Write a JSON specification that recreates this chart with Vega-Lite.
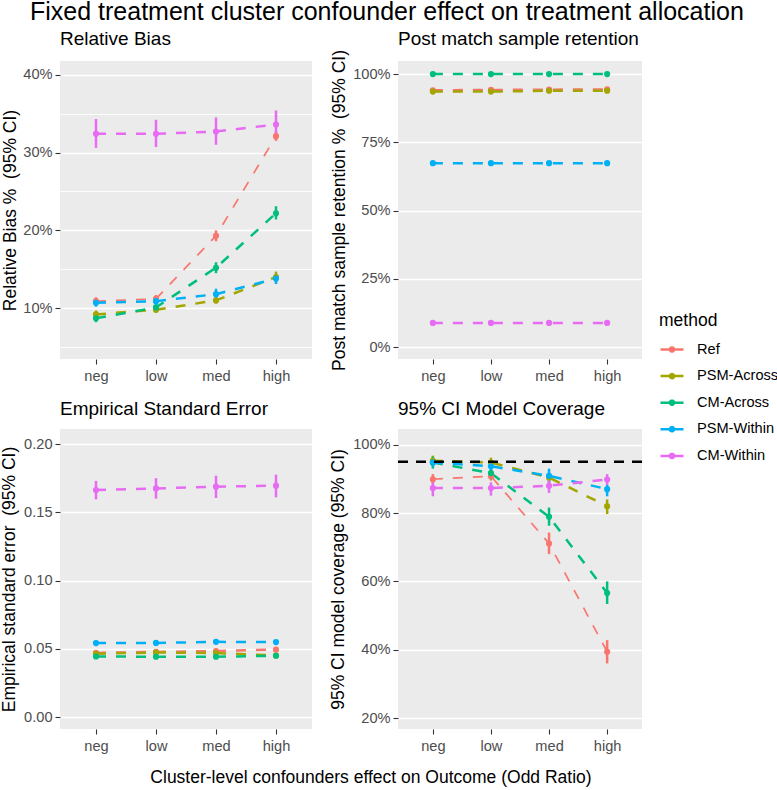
{
  "$schema": "https://vega.github.io/schema/vega-lite/v6.json",
  "padding": {"left": 0, "top": 0, "right": 2, "bottom": 2},
  "title": {"text": "Fixed treatment cluster confounder effect on treatment allocation", "fontSize": 25, "anchor": "start", "frame": "group", "baseline": "alphabetic", "offset": 16, "dx": -30, "dy": 31.3, "fontWeight": "normal", "color": "black"},
  "datasets": {
    "bias": [
      {"method": "Ref", "level": "neg", "v": 0.109, "lo": 0.104, "hi": 0.114},
      {"method": "Ref", "level": "low", "v": 0.112, "lo": 0.107, "hi": 0.117},
      {"method": "Ref", "level": "med", "v": 0.193, "lo": 0.186, "hi": 0.200},
      {"method": "Ref", "level": "high", "v": 0.321, "lo": 0.315, "hi": 0.327},
      {"method": "PSM-Across", "level": "neg", "v": 0.092, "lo": 0.088, "hi": 0.097},
      {"method": "PSM-Across", "level": "low", "v": 0.098, "lo": 0.094, "hi": 0.103},
      {"method": "PSM-Across", "level": "med", "v": 0.110, "lo": 0.106, "hi": 0.115},
      {"method": "PSM-Across", "level": "high", "v": 0.140, "lo": 0.133, "hi": 0.147},
      {"method": "CM-Across", "level": "neg", "v": 0.087, "lo": 0.082, "hi": 0.092},
      {"method": "CM-Across", "level": "low", "v": 0.101, "lo": 0.095, "hi": 0.107},
      {"method": "CM-Across", "level": "med", "v": 0.152, "lo": 0.145, "hi": 0.159},
      {"method": "CM-Across", "level": "high", "v": 0.222, "lo": 0.214, "hi": 0.231},
      {"method": "PSM-Within", "level": "neg", "v": 0.107, "lo": 0.102, "hi": 0.112},
      {"method": "PSM-Within", "level": "low", "v": 0.109, "lo": 0.104, "hi": 0.114},
      {"method": "PSM-Within", "level": "med", "v": 0.118, "lo": 0.111, "hi": 0.125},
      {"method": "PSM-Within", "level": "high", "v": 0.138, "lo": 0.131, "hi": 0.144},
      {"method": "CM-Within", "level": "neg", "v": 0.324, "lo": 0.306, "hi": 0.343},
      {"method": "CM-Within", "level": "low", "v": 0.324, "lo": 0.307, "hi": 0.342},
      {"method": "CM-Within", "level": "med", "v": 0.327, "lo": 0.310, "hi": 0.345},
      {"method": "CM-Within", "level": "high", "v": 0.336, "lo": 0.319, "hi": 0.354}
    ],
    "ret": [
      {"method": "Ref", "level": "neg", "v": 0.941},
      {"method": "Ref", "level": "low", "v": 0.942},
      {"method": "Ref", "level": "med", "v": 0.943},
      {"method": "Ref", "level": "high", "v": 0.944},
      {"method": "PSM-Across", "level": "neg", "v": 0.936},
      {"method": "PSM-Across", "level": "low", "v": 0.936},
      {"method": "PSM-Across", "level": "med", "v": 0.939},
      {"method": "PSM-Across", "level": "high", "v": 0.939},
      {"method": "CM-Across", "level": "neg", "v": 1.0},
      {"method": "CM-Across", "level": "low", "v": 1.0},
      {"method": "CM-Across", "level": "med", "v": 1.0},
      {"method": "CM-Across", "level": "high", "v": 1.0},
      {"method": "PSM-Within", "level": "neg", "v": 0.674},
      {"method": "PSM-Within", "level": "low", "v": 0.674},
      {"method": "PSM-Within", "level": "med", "v": 0.674},
      {"method": "PSM-Within", "level": "high", "v": 0.674},
      {"method": "CM-Within", "level": "neg", "v": 0.089},
      {"method": "CM-Within", "level": "low", "v": 0.089},
      {"method": "CM-Within", "level": "med", "v": 0.089},
      {"method": "CM-Within", "level": "high", "v": 0.089}
    ],
    "ese": [
      {"method": "Ref", "level": "neg", "v": 0.0471, "lo": 0.0456, "hi": 0.0486},
      {"method": "Ref", "level": "low", "v": 0.0478, "lo": 0.0463, "hi": 0.0493},
      {"method": "Ref", "level": "med", "v": 0.0485, "lo": 0.0470, "hi": 0.0500},
      {"method": "Ref", "level": "high", "v": 0.0495, "lo": 0.0480, "hi": 0.0510},
      {"method": "PSM-Across", "level": "neg", "v": 0.0465, "lo": 0.0450, "hi": 0.0480},
      {"method": "PSM-Across", "level": "low", "v": 0.0474, "lo": 0.0459, "hi": 0.0489},
      {"method": "PSM-Across", "level": "med", "v": 0.0470, "lo": 0.0455, "hi": 0.0485},
      {"method": "PSM-Across", "level": "high", "v": 0.0452, "lo": 0.0437, "hi": 0.0467},
      {"method": "CM-Across", "level": "neg", "v": 0.0445, "lo": 0.0430, "hi": 0.0460},
      {"method": "CM-Across", "level": "low", "v": 0.0443, "lo": 0.0428, "hi": 0.0458},
      {"method": "CM-Across", "level": "med", "v": 0.0443, "lo": 0.0428, "hi": 0.0458},
      {"method": "CM-Across", "level": "high", "v": 0.0450, "lo": 0.0435, "hi": 0.0465},
      {"method": "PSM-Within", "level": "neg", "v": 0.0543, "lo": 0.0526, "hi": 0.0560},
      {"method": "PSM-Within", "level": "low", "v": 0.0544, "lo": 0.0527, "hi": 0.0561},
      {"method": "PSM-Within", "level": "med", "v": 0.0552, "lo": 0.0535, "hi": 0.0569},
      {"method": "PSM-Within", "level": "high", "v": 0.0550, "lo": 0.0533, "hi": 0.0567},
      {"method": "CM-Within", "level": "neg", "v": 0.1663, "lo": 0.1595, "hi": 0.1730},
      {"method": "CM-Within", "level": "low", "v": 0.1675, "lo": 0.1600, "hi": 0.1750},
      {"method": "CM-Within", "level": "med", "v": 0.1688, "lo": 0.1605, "hi": 0.1768},
      {"method": "CM-Within", "level": "high", "v": 0.1695, "lo": 0.1610, "hi": 0.1776}
    ],
    "cov": [
      {"method": "Ref", "level": "neg", "v": 0.899, "lo": 0.885, "hi": 0.914},
      {"method": "Ref", "level": "low", "v": 0.908, "lo": 0.895, "hi": 0.921},
      {"method": "Ref", "level": "med", "v": 0.711, "lo": 0.680, "hi": 0.743},
      {"method": "Ref", "level": "high", "v": 0.394, "lo": 0.360, "hi": 0.428},
      {"method": "PSM-Across", "level": "neg", "v": 0.953, "lo": 0.938, "hi": 0.968},
      {"method": "PSM-Across", "level": "low", "v": 0.948, "lo": 0.933, "hi": 0.962},
      {"method": "PSM-Across", "level": "med", "v": 0.904, "lo": 0.889, "hi": 0.918},
      {"method": "PSM-Across", "level": "high", "v": 0.820, "lo": 0.797, "hi": 0.840},
      {"method": "CM-Across", "level": "neg", "v": 0.948, "lo": 0.930, "hi": 0.965},
      {"method": "CM-Across", "level": "low", "v": 0.917, "lo": 0.899, "hi": 0.934},
      {"method": "CM-Across", "level": "med", "v": 0.789, "lo": 0.763, "hi": 0.816},
      {"method": "CM-Across", "level": "high", "v": 0.566, "lo": 0.534, "hi": 0.600},
      {"method": "PSM-Within", "level": "neg", "v": 0.948, "lo": 0.936, "hi": 0.959},
      {"method": "PSM-Within", "level": "low", "v": 0.937, "lo": 0.919, "hi": 0.954},
      {"method": "PSM-Within", "level": "med", "v": 0.909, "lo": 0.890, "hi": 0.930},
      {"method": "PSM-Within", "level": "high", "v": 0.870, "lo": 0.849, "hi": 0.882},
      {"method": "CM-Within", "level": "neg", "v": 0.873, "lo": 0.849, "hi": 0.890},
      {"method": "CM-Within", "level": "low", "v": 0.873, "lo": 0.851, "hi": 0.890},
      {"method": "CM-Within", "level": "med", "v": 0.880, "lo": 0.859, "hi": 0.897},
      {"method": "CM-Within", "level": "high", "v": 0.898, "lo": 0.882, "hi": 0.914}
    ],
    "nominal": [{"target": 0.95}]
  },
  "columns": 2,
  "bounds": "flush",
  "align": "each",
  "spacing": {"column": 86, "row": 70},
  "concat": [
    {
      "width": 252, "height": 298,
      "title": {"text": "Relative Bias", "offset": 11.7},
      "layer": [
        {
          "data": {"name": "bias"},
          "mark": {"type": "line", "strokeDash": [10, 10]},
          "encoding": {
            "x": {"field": "level", "type": "ordinal", "sort": ["neg", "low", "med", "high"], "scale": {"type": "point", "padding": 0.6}, "axis": {"title": null}},
            "y": {"field": "v", "type": "quantitative", "scale": {"domain": [0.0347, 0.4176], "nice": false, "zero": false},
                  "axis": {"title": "Relative Bias %\u00a0 (95% CI)", "titleX": -45, "titleBaseline": "alphabetic",
                           "values": [0.05, 0.1, 0.15, 0.2, 0.25, 0.3, 0.35, 0.4],
                           "labelExpr": "round(datum.value*100) % 10 == 0 ? format(datum.value, '.0%') : ''",
                           "gridWidth": {"condition": {"test": "round(datum.value*100) % 10 == 0", "value": 1.6}, "value": 0.9},
                           "tickOpacity": {"condition": {"test": "round(datum.value*100) % 10 == 0", "value": 1}, "value": 0}}},
            "color": {"field": "method", "type": "nominal", "scale": {"domain": ["Ref", "PSM-Across", "CM-Across", "PSM-Within", "CM-Within"], "range": ["#F8766D", "#A3A500", "#00BF7D", "#00B0F6", "#E76BF3"]},
                      "title": "method",
                      "legend": {"orient": "none", "legendX": 599, "legendY": 251, "padding": 0,
                                 "titleFontSize": 17.5, "titleFontWeight": "normal", "titleColor": "black", "titlePadding": 7,
                                 "labelFontSize": 14.6, "labelColor": "black", "labelOffset": 12,
                                 "symbolType": "M-1,0L1,0M-0.18,0A0.18,0.18,0,1,0,0.18,0A0.18,0.18,0,1,0,-0.18,0Z",
                                 "symbolSize": 529, "symbolStrokeWidth": 2.5, "rowPadding": 5.6,
                                 "encode": {"symbols": {"update": {"fill": {"scale": "color", "field": "value"}, "stroke": {"scale": "color", "field": "value"}, "opacity": {"value": 1}, "strokeDash": {"value": [1, 0]}}}}}},
            "strokeWidth": {"condition": {"test": "datum.method === 'Ref'", "value": 1.7}, "value": 2.5}
          }
        },
        {
          "data": {"name": "bias"},
          "mark": {"type": "rule", "strokeWidth": 2.5},
          "encoding": {
            "x": {"field": "level", "type": "ordinal", "sort": ["neg", "low", "med", "high"]},
            "y": {"field": "lo", "type": "quantitative"},
            "y2": {"field": "hi"},
            "color": {"field": "method", "type": "nominal"}
          }
        },
        {
          "data": {"name": "bias"},
          "mark": {"type": "point", "filled": true, "size": 38, "opacity": 1},
          "encoding": {
            "x": {"field": "level", "type": "ordinal", "sort": ["neg", "low", "med", "high"]},
            "y": {"field": "v", "type": "quantitative"},
            "color": {"field": "method", "type": "nominal"}
          }
        }
      ]
    },
    {
      "width": 244, "height": 298,
      "title": {"text": "Post match sample retention", "offset": 0.8},
      "layer": [
        {
          "data": {"name": "ret"},
          "mark": {"type": "line", "strokeDash": [10, 10], "strokeWidth": 2.5},
          "encoding": {
            "x": {"field": "level", "type": "ordinal", "sort": ["neg", "low", "med", "high"], "scale": {"type": "point", "padding": 0.6}, "axis": {"title": null}},
            "y": {"field": "v", "type": "quantitative", "scale": {"domain": [-0.043, 1.048], "nice": false, "zero": false},
                  "axis": {"title": "Post match sample retention %\u00a0 (95% CI)", "titleX": -54, "titleBaseline": "alphabetic",
                           "values": [0, 0.125, 0.25, 0.375, 0.5, 0.625, 0.75, 0.875, 1],
                           "labelExpr": "round(datum.value*1000) % 250 == 0 ? format(datum.value, '.0%') : ''",
                           "gridWidth": {"condition": {"test": "round(datum.value*1000) % 250 == 0", "value": 1.6}, "value": 0.9},
                           "tickOpacity": {"condition": {"test": "round(datum.value*1000) % 250 == 0", "value": 1}, "value": 0}}},
            "color": {"field": "method", "type": "nominal"}
          }
        },
        {
          "data": {"name": "ret"},
          "mark": {"type": "point", "filled": true, "size": 38, "opacity": 1},
          "encoding": {
            "x": {"field": "level", "type": "ordinal", "sort": ["neg", "low", "med", "high"]},
            "y": {"field": "v", "type": "quantitative"},
            "color": {"field": "method", "type": "nominal"}
          }
        }
      ]
    },
    {
      "width": 252, "height": 300,
      "title": {"text": "Empirical Standard Error", "offset": 10.5},
      "layer": [
        {
          "data": {"name": "ese"},
          "mark": {"type": "line", "strokeDash": [10, 10], "strokeWidth": 2.5},
          "encoding": {
            "x": {"field": "level", "type": "ordinal", "sort": ["neg", "low", "med", "high"], "scale": {"type": "point", "padding": 0.6},
                  "axis": {"title": "Cluster-level confounders effect on Outcome (Odd Ratio)", "titleX": 310.5, "titleY": 53, "titleBaseline": "alphabetic", "titleAlign": "center"}},
            "y": {"field": "v", "type": "quantitative", "scale": {"domain": [-0.0086, 0.211], "nice": false, "zero": false},
                  "axis": {"title": "Empirical standard error\u00a0 (95% CI)", "titleX": -46, "titleBaseline": "alphabetic",
                           "values": [0, 0.025, 0.05, 0.075, 0.1, 0.125, 0.15, 0.175, 0.2],
                           "labelExpr": "round(datum.value*1000) % 50 == 0 ? format(datum.value, '.2f') : ''",
                           "gridWidth": {"condition": {"test": "round(datum.value*1000) % 50 == 0", "value": 1.6}, "value": 0.9},
                           "tickOpacity": {"condition": {"test": "round(datum.value*1000) % 50 == 0", "value": 1}, "value": 0}}},
            "color": {"field": "method", "type": "nominal"}
          }
        },
        {
          "data": {"name": "ese"},
          "mark": {"type": "rule", "strokeWidth": 2.5},
          "encoding": {
            "x": {"field": "level", "type": "ordinal", "sort": ["neg", "low", "med", "high"]},
            "y": {"field": "lo", "type": "quantitative"},
            "y2": {"field": "hi"},
            "color": {"field": "method", "type": "nominal"}
          }
        },
        {
          "data": {"name": "ese"},
          "mark": {"type": "point", "filled": true, "size": 38, "opacity": 1},
          "encoding": {
            "x": {"field": "level", "type": "ordinal", "sort": ["neg", "low", "med", "high"]},
            "y": {"field": "v", "type": "quantitative"},
            "color": {"field": "method", "type": "nominal"}
          }
        }
      ]
    },
    {
      "width": 244, "height": 300,
      "title": {"text": "95% CI Model Coverage", "offset": 10.5},
      "layer": [
        {
          "data": {"name": "cov"},
          "mark": {"type": "line", "strokeDash": [10, 10]},
          "encoding": {
            "x": {"field": "level", "type": "ordinal", "sort": ["neg", "low", "med", "high"], "scale": {"type": "point", "padding": 0.6}, "axis": {"title": null}},
            "y": {"field": "v", "type": "quantitative", "scale": {"domain": [0.168, 1.046], "nice": false, "zero": false},
                  "axis": {"title": "95% CI model coverage (95% CI)", "titleX": -54.5, "titleBaseline": "alphabetic",
                           "values": [0.2, 0.3, 0.4, 0.5, 0.6, 0.7, 0.8, 0.9, 1.0],
                           "labelExpr": "round(datum.value*100) % 20 == 0 ? format(datum.value, '.0%') : ''",
                           "gridWidth": {"condition": {"test": "round(datum.value*100) % 20 == 0", "value": 1.6}, "value": 0.9},
                           "tickOpacity": {"condition": {"test": "round(datum.value*100) % 20 == 0", "value": 1}, "value": 0}}},
            "color": {"field": "method", "type": "nominal"},
            "strokeWidth": {"condition": {"test": "datum.method === 'Ref'", "value": 1.7}, "value": 2.5}
          }
        },
        {
          "data": {"name": "cov"},
          "mark": {"type": "rule", "strokeWidth": 2.5},
          "encoding": {
            "x": {"field": "level", "type": "ordinal", "sort": ["neg", "low", "med", "high"]},
            "y": {"field": "lo", "type": "quantitative"},
            "y2": {"field": "hi"},
            "color": {"field": "method", "type": "nominal"}
          }
        },
        {
          "data": {"name": "cov"},
          "mark": {"type": "point", "filled": true, "size": 38, "opacity": 1},
          "encoding": {
            "x": {"field": "level", "type": "ordinal", "sort": ["neg", "low", "med", "high"]},
            "y": {"field": "v", "type": "quantitative"},
            "color": {"field": "method", "type": "nominal"}
          }
        },
        {
          "data": {"name": "nominal"},
          "mark": {"type": "rule", "strokeDash": [10, 8], "strokeWidth": 2.5, "color": "black"},
          "encoding": {
            "y": {"field": "target", "type": "quantitative"}
          }
        }
      ]
    }
  ],
  "config": {
    "font": "Liberation Sans",
    "view": {"fill": "#EBEBEB", "stroke": null},
    "axis": {"domain": false, "tickColor": "#333333", "tickSize": 5, "tickWidth": 1.1, "labelColor": "#4D4D4D", "labelFontSize": 14.6, "labelPadding": 3,
             "gridColor": "white", "gridWidth": 1.6, "titleFontSize": 17.5, "titleFontWeight": "normal", "titleColor": "black"},
    "axisX": {"labelPadding": 4.5, "labelAngle": 0},
    "title": {"fontSize": 19, "fontWeight": "normal", "anchor": "start", "frame": "group", "baseline": "alphabetic", "offset": 13.5, "color": "black"}
  }
}
